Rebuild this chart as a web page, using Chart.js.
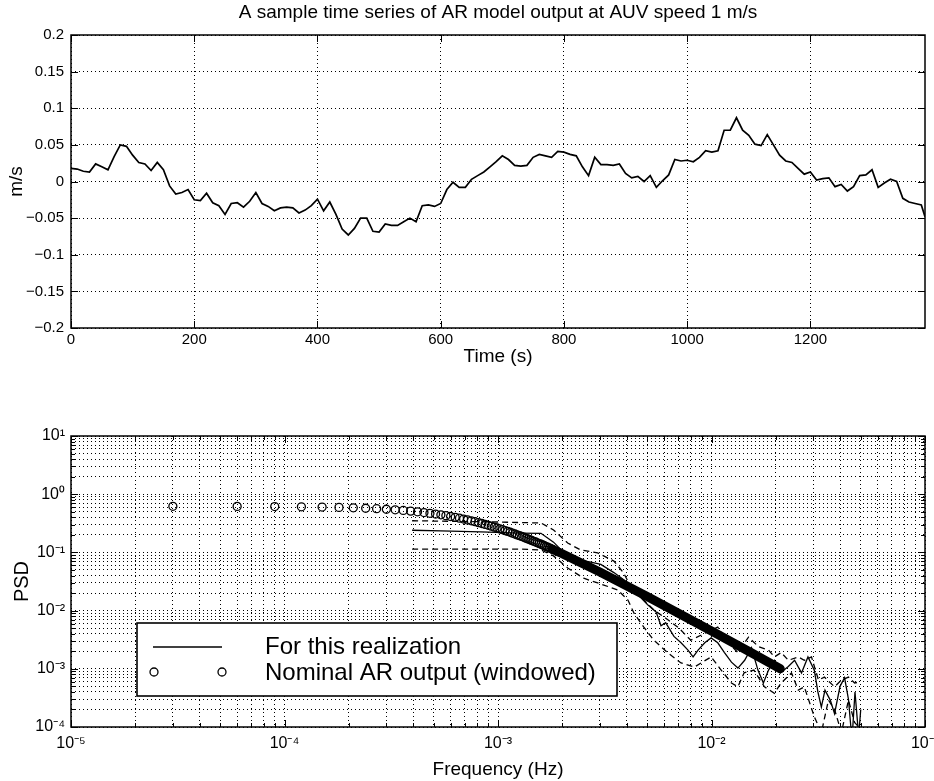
<!DOCTYPE html>
<html>
<head>
<meta charset="utf-8">
<title>AR model output at AUV speed 1 m/s</title>
<script src="https://cdn.jsdelivr.net/npm/chart.js@4.4.1/dist/chart.umd.min.js"></script>
<style>
  html, body { margin: 0; padding: 0; background: #fff; }
  .box { position: absolute; left: 0; width: 934px; }
</style>
</head>
<body>
<div class="box" style="top:0;height:373px"><canvas id="tsChart"></canvas></div>
<div class="box" style="top:380px;height:401px"><canvas id="psdChart"></canvas></div>
<script>
// ---- serie temporal (m/s), una muestra cada 10 s ----
const timeS = [
  0, 10, 20, 30, 40, 50, 60, 70, 80, 90, 100, 110, 120, 130, 140, 150, 160, 170, 180, 190,
  200, 210, 220, 230, 240, 250, 260, 270, 280, 290, 300, 310, 320, 330, 340, 350, 360, 370, 380, 390,
  400, 410, 420, 430, 440, 450, 460, 470, 480, 490, 500, 510, 520, 530, 540, 550, 560, 570, 580, 590,
  600, 610, 620, 630, 640, 650, 660, 670, 680, 690, 700, 710, 720, 730, 740, 750, 760, 770, 780, 790,
  800, 810, 820, 830, 840, 850, 860, 870, 880, 890, 900, 910, 920, 930, 940, 950, 960, 970, 980, 990,
  1000, 1010, 1020, 1030, 1040, 1050, 1060, 1070, 1080, 1090, 1100, 1110, 1120, 1130, 1140, 1150, 1160, 1170, 1180, 1190,
  1200, 1210, 1220, 1230, 1240, 1250, 1260, 1270, 1280, 1290, 1300, 1310, 1320, 1330, 1340, 1350, 1360, 1370, 1380, 1386
];
const speedMs = [
  0.018, 0.017, 0.014, 0.013, 0.024, 0.020, 0.016, 0.034, 0.050, 0.048, 0.036, 0.026, 0.024, 0.015, 0.026, 0.016, -0.006, -0.017, -0.015, -0.011,
  -0.025, -0.026, -0.016, -0.029, -0.033, -0.045, -0.030, -0.029, -0.035, -0.027, -0.015, -0.030, -0.034, -0.040, -0.036, -0.035, -0.036, -0.043, -0.039, -0.033,
  -0.024, -0.040, -0.028, -0.045, -0.065, -0.073, -0.064, -0.050, -0.050, -0.068, -0.069, -0.058, -0.060, -0.060, -0.055, -0.050, -0.055, -0.033, -0.032, -0.034,
  -0.030, -0.011, -0.001, -0.008, -0.008, 0.003, 0.008, 0.013, 0.020, 0.027, 0.035, 0.030, 0.022, 0.021, 0.022, 0.033, 0.037, 0.035, 0.033, 0.041,
  0.040, 0.037, 0.035, 0.020, 0.008, 0.033, 0.023, 0.023, 0.022, 0.024, 0.011, 0.005, 0.007, 0.000, 0.008, -0.008, 0.001, 0.009, 0.030, 0.028,
  0.029, 0.027, 0.033, 0.042, 0.040, 0.042, 0.070, 0.070, 0.087, 0.070, 0.063, 0.051, 0.049, 0.064, 0.050, 0.036, 0.028, 0.026, 0.018, 0.010,
  0.013, 0.002, 0.004, 0.005, -0.007, -0.004, -0.013, -0.007, 0.008, 0.009, 0.016, -0.008, -0.002, 0.003, 0.000, -0.023, -0.028, -0.030, -0.032, -0.048
];
const timeTicks = [0, 200, 400, 600, 800, 1000, 1200];
const timeTickLabels = ["0", "200", "400", "600", "800", "1000", "1200"];
const msTicks = [-0.2, -0.15, -0.1, -0.05, 0, 0.05, 0.1, 0.15, 0.2];
const msTickLabels = ["\u22120.2", "\u22120.15", "\u22120.1", "\u22120.05", "0", "0.05", "0.1", "0.15", "0.2"];

// ---- PSD ----
// AR nominal (círculos), df = 3e-5 Hz
const nominalFreq = [
  3e-5, 6e-5, 9e-5, 1.2e-4, 1.5e-4, 1.8e-4, 2.1e-4, 2.4e-4, 2.7e-4, 3e-4,
  3.3e-4, 3.6e-4, 3.9e-4, 4.2e-4, 4.5e-4, 4.8e-4, 5.1e-4, 5.4e-4, 5.7e-4, 6e-4,
  6.3e-4, 6.6e-4, 6.9e-4, 7.2e-4, 7.5e-4, 7.8e-4, 8.1e-4, 8.4e-4, 8.7e-4, 9e-4,
  9.3e-4, 9.6e-4, 9.9e-4, 1.02e-3, 1.05e-3, 1.08e-3, 1.11e-3, 1.14e-3, 1.17e-3, 1.2e-3,
  1.23e-3, 1.26e-3, 1.29e-3, 1.32e-3, 1.35e-3, 1.38e-3, 1.41e-3, 1.44e-3, 1.47e-3, 1.5e-3,
  1.53e-3, 1.56e-3, 1.59e-3, 1.62e-3, 1.65e-3, 1.68e-3, 1.71e-3, 1.74e-3, 1.77e-3, 1.8e-3
];
const nominalPsd = [
  0.619, 0.617, 0.613, 0.608, 0.601, 0.593, 0.584, 0.574, 0.563, 0.551,
  0.539, 0.526, 0.512, 0.498, 0.484, 0.470, 0.456, 0.442, 0.428, 0.414,
  0.400, 0.387, 0.374, 0.361, 0.349, 0.337, 0.325, 0.314, 0.303, 0.292,
  0.282, 0.272, 0.263, 0.254, 0.246, 0.237, 0.229, 0.222, 0.214, 0.207,
  0.200, 0.194, 0.188, 0.182, 0.176, 0.171, 0.165, 0.160, 0.155, 0.151,
  0.146, 0.142, 0.138, 0.134, 0.130, 0.126, 0.123, 0.120, 0.116, 0.113
];
// donde los círculos se juntan en una banda negra
const bandFreq = [1.8e-3, 2e-3, 3e-3, 5e-3, 7e-3, 1e-2, 1.5e-2, 2.1e-2];
const bandPsd = [0.113, 0.0949, 0.0461, 0.0174, 0.0090, 0.00445, 0.00198, 0.00100];

// esta realización
const realFreq = [
  3.96e-4, 5.4e-4, 8.3e-4, 1.27e-3, 1.59e-3, 1.82e-3, 2.12e-3, 2.36e-3, 2.72e-3, 3.03e-3,
  3.49e-3, 3.88e-3, 4.33e-3, 5.04e-3, 5.5e-3, 5.8e-3, 6.1e-3, 6.67e-3, 7.2e-3, 7.76e-3,
  8.2e-3, 8.65e-3, 9.3e-3, 9.96e-3, 1.07e-2, 1.15e-2, 1.24e-2, 1.33e-2, 1.43e-2, 1.54e-2,
  1.65e-2, 1.75e-2, 1.85e-2, 1.97e-2, 2.1e-2, 2.29e-2, 2.45e-2, 2.64e-2, 2.83e-2, 3.03e-2,
  3.15e-2, 3.27e-2, 3.4e-2, 3.6e-2, 3.77e-2, 4.0e-2, 4.2e-2, 4.38e-2, 4.55e-2, 4.7e-2,
  4.89e-2, 5.0e-2
];
const realPsd = [
  0.24, 0.235, 0.225, 0.215, 0.213, 0.15, 0.085, 0.075, 0.068, 0.062,
  0.045, 0.034, 0.022, 0.0125, 0.0095, 0.0055, 0.0062, 0.0036, 0.0028, 0.0021,
  0.0016, 0.0021, 0.0028, 0.0034, 0.0028, 0.0019, 0.0013, 0.00103, 0.0014, 0.0023,
  0.00095, 0.00057, 0.00095, 0.0014, 0.00085, 0.0011, 0.0014, 0.00085, 0.0016, 0.00095,
  0.0004, 0.00022, 0.00043, 0.00029, 0.00017, 0.0005, 0.0007, 0.0003, 0.00006, 0.0004,
  0.00007, 0.0002
];
// bandas de confianza (punteadas)
const upperFreq = [
  3.96e-4, 9.9e-4, 1.59e-3, 1.82e-3, 2.12e-3, 2.44e-3, 2.93e-3, 3.49e-3, 3.88e-3, 4.19e-3,
  5.37e-3, 5.98e-3, 6.96e-3, 8.0e-3, 9.6e-3, 1.07e-2, 1.2e-2, 1.33e-2, 1.49e-2, 1.66e-2,
  1.85e-2, 1.97e-2, 2.12e-2, 2.29e-2, 2.55e-2, 2.72e-2, 2.94e-2, 3.17e-2, 3.38e-2, 3.77e-2,
  4.06e-2, 4.38e-2, 4.68e-2, 5.0e-2
];
const upperPsd = [
  0.35, 0.333, 0.32, 0.243, 0.145, 0.11, 0.098, 0.071, 0.044, 0.0255,
  0.0102, 0.0078, 0.0052, 0.0031, 0.0043, 0.0052, 0.0028, 0.0019, 0.0035, 0.0024,
  0.0021, 0.0016, 0.0019, 0.0014, 0.0016, 0.0014, 0.0016, 0.00064, 0.00072, 0.00049,
  0.00064, 0.00072, 0.00057, 0.0006
];
const lowerFreq = [
  3.96e-4, 1.27e-3, 1.59e-3, 1.82e-3, 2.12e-3, 2.52e-3, 3.13e-3, 3.64e-3, 4.06e-3, 4.33e-3,
  4.82e-3, 5.37e-3, 6.25e-3, 7.2e-3, 8.3e-3, 9.96e-3, 1.11e-2, 1.24e-2, 1.33e-2, 1.42e-2,
  1.58e-2, 1.77e-2, 1.97e-2, 2.12e-2, 2.37e-2, 2.55e-2, 2.72e-2, 3.03e-2, 3.27e-2, 3.53e-2,
  3.77e-2, 4.06e-2, 4.38e-2, 4.68e-2, 4.89e-2
];
const lowerPsd = [
  0.114, 0.114, 0.11, 0.087, 0.054, 0.036, 0.0275, 0.0226, 0.0152, 0.0091,
  0.0052, 0.0031, 0.00187, 0.00126, 0.00107, 0.0016, 0.00095, 0.00057, 0.00049, 0.00085,
  0.00095, 0.00049, 0.00038, 0.00057, 0.00085, 0.00043, 0.00049, 0.00015, 0.00008, 0.00029,
  0.0002, 0.00008, 0.00029, 0.00012, 0.0001
];
const freqDecades = [1e-5, 1e-4, 1e-3, 1e-2, 1e-1];
const freqTickLabels = ["10\u207B\u2075", "10\u207B\u2074", "10\u207B\u00B3", "10\u207B\u00B2", "10\u207B\u00B9"];
const psdDecades = [1e-4, 1e-3, 1e-2, 1e-1, 1, 10];
const psdTickLabels = ["10\u207B\u2074", "10\u207B\u00B3", "10\u207B\u00B2", "10\u207B\u00B9", "10\u2070", "10\u00B9"];
const legendLabels = ["For this realization", "Nominal AR output (windowed)"];

const FONT = "'Liberation Sans', Arial, Helvetica, sans-serif";
Chart.defaults.font.family = FONT;
Chart.defaults.color = "#000";

function pairs(xs, ys) {
  return xs.map((x, i) => ({ x: x, y: ys[i] }));
}

// rejilla 1..9 por década (estilo MATLAB)
function logGrid(decades) {
  const out = [];
  for (let i = 0; i < decades.length - 1; i++) {
    for (let m = 1; m <= 9; m++) out.push({ value: m * decades[i], major: m === 1 });
  }
  out.push({ value: decades[decades.length - 1], major: true });
  return out;
}

const dotted = { color: "#000", lineWidth: 1, drawTicks: false };
const dots = { display: false, dash: [1, 3] };

// marco completo + marcas hacia adentro
const framePlugin = {
  id: "frame",
  afterDatasetsDraw(chart) {
    const { ctx, chartArea: a } = chart;
    ctx.save();
    ctx.strokeStyle = "#000";
    ctx.lineWidth = 1;
    const xs = chart.scales.x, ys = chart.scales.y;
    ctx.beginPath();
    xs.ticks.forEach(t => {
      const p = Math.round(xs.getPixelForValue(t.value)) + 0.5;
      const len = t.major === false ? 4 : 7;
      ctx.moveTo(p, a.bottom); ctx.lineTo(p, a.bottom - len);
      ctx.moveTo(p, a.top); ctx.lineTo(p, a.top + len);
    });
    ys.ticks.forEach(t => {
      const p = Math.round(ys.getPixelForValue(t.value)) + 0.5;
      const len = t.major === false ? 4 : 7;
      ctx.moveTo(a.left, p); ctx.lineTo(a.left + len, p);
      ctx.moveTo(a.right, p); ctx.lineTo(a.right - len, p);
    });
    ctx.stroke();
    ctx.lineWidth = 1.5;
    ctx.strokeRect(a.left, a.top, a.right - a.left, a.bottom - a.top);
    ctx.restore();
  }
};

// leyenda con caja, como en la figura
const legendBoxPlugin = {
  id: "psdLegend",
  afterDraw(chart) {
    const { ctx, chartArea: a } = chart;
    const x = a.left + 66, y = a.top + 187, w = 480, h = 73;
    ctx.save();
    ctx.fillStyle = "#fff";
    ctx.fillRect(x, y, w, h);
    ctx.strokeStyle = "#000";
    ctx.lineWidth = 1.6;
    ctx.strokeRect(x, y, w, h);
    ctx.lineWidth = 1.5;
    ctx.beginPath();
    ctx.moveTo(x + 16, y + 24);
    ctx.lineTo(x + 85, y + 24);
    ctx.stroke();
    ctx.lineWidth = 1.3;
    [x + 17, x + 85].forEach(cx => {
      ctx.beginPath();
      ctx.arc(cx, y + 49, 4, 0, Math.PI * 2);
      ctx.stroke();
    });
    ctx.fillStyle = "#000";
    ctx.font = "24px " + FONT;
    ctx.textBaseline = "middle";
    ctx.fillText(legendLabels[0], x + 128, y + 24);
    ctx.fillText(legendLabels[1], x + 128, y + 50);
    ctx.restore();
  }
};

new Chart(document.getElementById("tsChart"), {
  type: "scatter",
  data: {
    datasets: [{
      data: pairs(timeS, speedMs),
      showLine: true,
      borderColor: "#000",
      borderWidth: 1.7,
      pointRadius: 0,
      tension: 0
    }]
  },
  options: {
    responsive: true,
    maintainAspectRatio: false,
    animation: false,
    events: [],
    layout: { padding: { left: 0, right: 9, top: 0, bottom: 0 } },
    plugins: {
      legend: { display: false },
      tooltip: { enabled: false },
      title: {
        display: true,
        fullSize: false,
        text: "A sample time series of AR model output at AUV speed 1 m/s",
        font: { size: 19, weight: "normal" },
        color: "#000",
        padding: { top: 1, bottom: 11.2 }
      }
    },
    scales: {
      x: {
        type: "linear",
        min: 0,
        max: 1386,
        afterBuildTicks: s => { s.ticks = timeTicks.map(v => ({ value: v })); },
        afterFit: s => { s.height = 45; s.paddingLeft = 0; s.paddingRight = 0; },
        ticks: {
          autoSkip: false, maxRotation: 0, padding: 3,
          font: { size: 15 },
          callback: v => timeTickLabels[timeTicks.indexOf(v)]
        },
        grid: dotted,
        border: dots,
        title: { display: true, text: "Time (s)", font: { size: 19 }, padding: { top: 0, bottom: 4.6 } }
      },
      y: {
        min: -0.2,
        max: 0.2,
        afterBuildTicks: s => { s.ticks = msTicks.map(v => ({ value: v })); },
        afterFit: s => { s.width = 71; },
        ticks: {
          autoSkip: false, padding: 7,
          font: { size: 15 },
          callback: v => msTickLabels[msTicks.indexOf(v)]
        },
        grid: dotted,
        border: dots,
        title: { display: true, text: "m/s", font: { size: 19 }, padding: { top: 5.6, bottom: 0 } }
      }
    }
  },
  plugins: [framePlugin]
});

new Chart(document.getElementById("psdChart"), {
  type: "scatter",
  data: {
    datasets: [
      {
        label: legendLabels[1],
        data: pairs(nominalFreq, nominalPsd),
        showLine: false,
        pointStyle: "circle",
        pointRadius: 4,
        pointBorderWidth: 1.3,
        pointBorderColor: "#000",
        pointBackgroundColor: "rgba(0,0,0,0)"
      },
      {
        label: "nominal (dense)",
        data: pairs(bandFreq, bandPsd),
        showLine: true,
        borderColor: "#000",
        borderWidth: 9,
        borderCapStyle: "round",
        pointRadius: 0
      },
      {
        label: legendLabels[0],
        data: pairs(realFreq, realPsd),
        showLine: true,
        borderColor: "#000",
        borderWidth: 1.3,
        pointRadius: 0,
        clip: 0
      },
      {
        label: "upper",
        data: pairs(upperFreq, upperPsd),
        showLine: true,
        borderColor: "#000",
        borderWidth: 1.3,
        borderDash: [6, 4],
        pointRadius: 0,
        clip: 0
      },
      {
        label: "lower",
        data: pairs(lowerFreq, lowerPsd),
        showLine: true,
        borderColor: "#000",
        borderWidth: 1.3,
        borderDash: [6, 4],
        pointRadius: 0,
        clip: 0
      }
    ]
  },
  options: {
    responsive: true,
    maintainAspectRatio: false,
    animation: false,
    events: [],
    layout: { padding: { left: 0, right: 9, top: 56, bottom: 0 } },
    plugins: {
      legend: { display: false },
      tooltip: { enabled: false }
    },
    scales: {
      x: {
        type: "logarithmic",
        min: 1e-5,
        max: 1e-1,
        afterBuildTicks: s => { s.ticks = logGrid(freqDecades); },
        afterFit: s => { s.height = 54; s.paddingLeft = 0; s.paddingRight = 0; },
        ticks: {
          autoSkip: false, maxRotation: 0, padding: 7,
          font: { size: 16 },
          callback: v => { const i = freqDecades.indexOf(v); return i >= 0 ? freqTickLabels[i] : ""; }
        },
        grid: dotted,
        border: dots,
        title: { display: true, text: "Frequency (Hz)", font: { size: 19 }, padding: { top: 0, bottom: 0 } }
      },
      y: {
        type: "logarithmic",
        min: 1e-4,
        max: 10,
        afterBuildTicks: s => { s.ticks = logGrid(psdDecades); },
        afterFit: s => { s.width = 71; s.paddingTop = 0; s.paddingBottom = 0; },
        ticks: {
          autoSkip: false, padding: 6,
          font: { size: 16 },
          callback: v => { const i = psdDecades.indexOf(v); return i >= 0 ? psdTickLabels[i] : ""; }
        },
        grid: dotted,
        border: dots,
        title: { display: true, text: "PSD", font: { size: 20 }, padding: { top: 10, bottom: 0 } }
      }
    }
  },
  plugins: [framePlugin, legendBoxPlugin]
});
</script>
</body>
</html>
